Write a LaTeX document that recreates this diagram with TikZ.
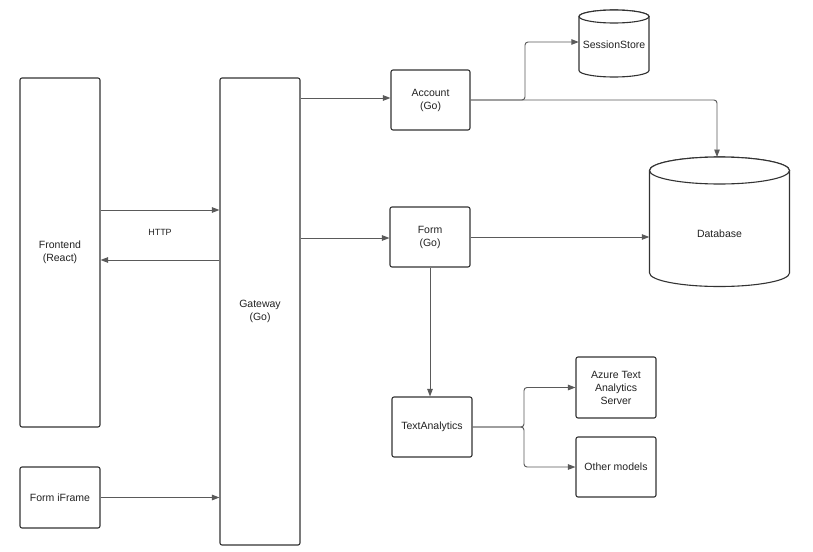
\documentclass[tikz,border=0pt]{standalone}
\usepackage{fontspec}
\setmainfont{Liberation Sans}
\usetikzlibrary{arrows.meta,calc}
\definecolor{boxline}{HTML}{333333}
\definecolor{conline}{HTML}{5A5A5A}
\definecolor{txt}{HTML}{222222}
\tikzset{
  box/.style={draw=boxline, line width=1.1pt, rounded corners=2pt, inner sep=0pt, align=center,
    text=txt, font=\fontsize{10.5}{13}\selectfont},
  conn/.style={draw=conline, line width=0.95pt, rounded corners=3pt,
    -{Triangle[length=7.5pt,width=5.5pt]}},
  lbl/.style={text=txt, font=\fontsize{10.5}{13}\selectfont, inner sep=0pt, align=center},
  cyl/.style={draw=boxline, line width=1.1pt, fill=white},
}
\begin{document}
\begin{tikzpicture}[x=1pt,y=-1pt]
\useasboundingbox[fill=white] (0,0) rectangle (813,551);

% boxes
\node[box, minimum width=80pt, minimum height=349pt] (front) at (60,252.5) {Frontend\\(React)};
\node[box, minimum width=80pt, minimum height=467pt] (gw) at (260,311.5) {Gateway\\(Go)};
\node[box, minimum width=80pt, minimum height=61pt] (iframe) at (60,497.5) {Form iFrame};
\node[box, minimum width=79pt, minimum height=60pt] (acc) at (430.5,100) {Account\\(Go)};
\node[box, minimum width=80pt, minimum height=60pt] (form) at (430,237) {Form\\(Go)};
\node[box, minimum width=80pt, minimum height=60pt] (ta) at (432,427) {TextAnalytics};
\node[box, minimum width=80pt, minimum height=61pt] (azure) at (616,387.5) {Azure Text\\Analytics\\Server};
\node[box, minimum width=80pt, minimum height=60pt] (other) at (616,467) {Other models};

% cylinders
\node[inner sep=0pt, minimum width=70pt, minimum height=67pt] (sess) at (614,43.5) {};
\draw[cyl] (579,16.5) -- (579,70.5) arc[start angle=180, end angle=0, x radius=35, y radius=6.5]
  -- (649,16.5) arc[start angle=0, end angle=-180, x radius=35, y radius=6.5] -- cycle;
\draw[cyl] (614,16.5) ellipse[x radius=35, y radius=6.5];
\node[lbl] at (614,45) {SessionStore};

\node[inner sep=0pt, minimum width=140pt, minimum height=130pt] (db) at (719.5,222) {};
\draw[cyl] (649.5,170.5) -- (649.5,273) arc[start angle=180, end angle=0, x radius=70, y radius=13.5]
  -- (789.5,170.5) arc[start angle=0, end angle=-180, x radius=70, y radius=13.5] -- cycle;
\draw[cyl] (719.5,170.5) ellipse[x radius=70, y radius=13.5];
\node[lbl] at (719.5,234) {Database};

% connectors
\draw[conn] (front.east |- 0,210) -- (gw.west |- 0,210);
\draw[conn] (gw.west |- 0,260) -- (front.east |- 0,260);
\node[lbl, font=\fontsize{9}{11}\selectfont] (http) at (160,232) {HTTP};
\draw[conn] (iframe.east) -- (gw.west |- iframe.east);
\draw[conn] (gw.east |- 0,98) -- (acc.west |- 0,98);
\draw[conn] (gw.east |- 0,238) -- (form.west |- 0,238);
\draw[conn] (acc.east) -- (525,100) -- (525,42) -- (sess.west |- 0,42);
\draw[conn] (acc.east) -- (717,100) -- (717,157);
\draw[conn] (form.east) -- (db.west |- form.east);
\draw[conn] (form.south) -- (form.south |- ta.north);
\draw[conn] (ta.east) -- (524,427) -- (524,387.5) -- (azure.west);
\draw[conn] (ta.east) -- (524,427) -- (524,467) -- (other.west);
\end{tikzpicture}
\end{document}
